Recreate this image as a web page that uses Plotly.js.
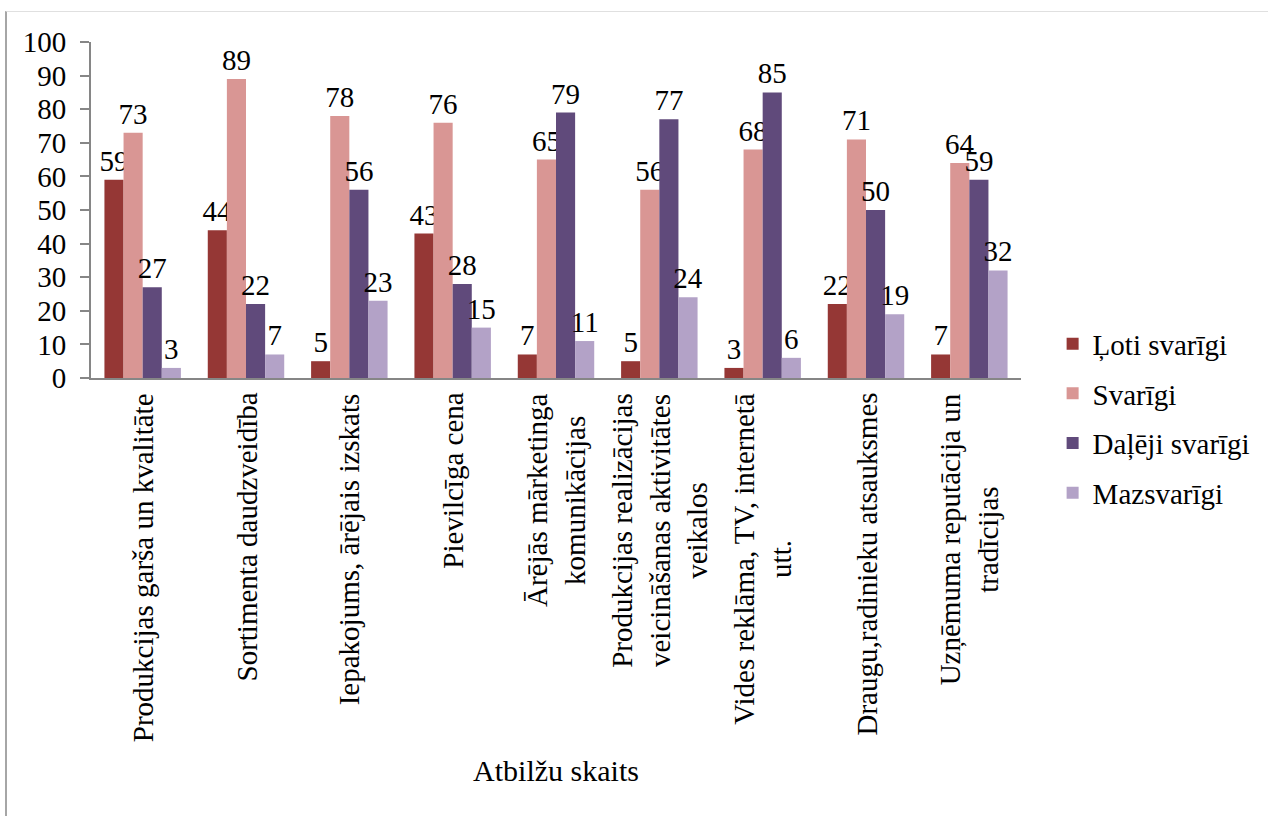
<!DOCTYPE html>
<html>
<head>
<meta charset="utf-8">
<script src="https://cdn.plot.ly/plotly-3.0.1.min.js"></script>
<style>
  html, body { margin: 0; padding: 0; background: #fff; }
  #wrap { position: relative; width: 1268px; height: 816px; }
  #chart { position: absolute; left: 0; top: 0; width: 1268px; height: 816px; }
  #frame { position: absolute; left: 5px; top: 11px; right: 0; bottom: 0;
           border-left: 2px solid #a6a6a6; border-top: 1px solid #e0e0e0; pointer-events: none; }
</style>
</head>
<body>
<div id="wrap">
  <div id="chart"></div>
  <div id="frame"></div>
</div>
<script>
const categories = [
  "Produkcijas garša un kvalitāte",
  "Sortimenta daudzveidība",
  "Iepakojums, ārējais izskats",
  "Pievilcīga cena",
  "Ārējās mārketinga<br>komunikācijas",
  "Produkcijas realizācijas<br>veicināšanas aktivitātes<br>veikalos",
  "Vides reklāma, TV, internetā<br>utt.",
  "Draugu,radinieku atsauksmes",
  "Uzņēmuma reputācija un<br>tradīcijas"
];
const seriesNames = ["Ļoti svarīgi", "Svarīgi", "Daļēji svarīgi", "Mazsvarīgi"];
const lotiSvarigi   = [59, 44, 5, 43, 7, 5, 3, 22, 7];
const svarigi       = [73, 89, 78, 76, 65, 56, 68, 71, 64];
const dalejiSvarigi = [27, 22, 56, 28, 79, 77, 85, 50, 59];
const mazsvarigi    = [3, 7, 23, 15, 11, 24, 6, 19, 32];
const colors = ["#953735", "#D99694", "#604A7B", "#B3A2C7"];
const yTicks = [0, 10, 20, 30, 40, 50, 60, 70, 80, 90, 100];
const xTitle = "Atbilžu skaits";

const FONT = '"Liberation Serif", "Times New Roman", serif';
const seriesValues = [lotiSvarigi, svarigi, dalejiSvarigi, mazsvarigi];

const traces = seriesValues.map((vals, i) => ({
  type: "bar",
  name: seriesNames[i],
  x: categories,
  y: vals,
  marker: { color: colors[i] },
  text: vals.map(String),
  textposition: "outside",
  textfont: { family: FONT, size: 29, color: "#000" },
  constraintext: "none",
  cliponaxis: false,
  legendgroup: "g" + i,
  hoverinfo: "x+y+name"
}));

// category labels: rotated, centre-aligned, placed through the x axis (category) scale
const catLabels = categories.map(c => ({
  x: c, xref: "x",
  y: 0, yref: "y",
  yshift: -13,
  xanchor: "center", yanchor: "top",
  text: c,
  textangle: -90,
  align: "center",
  showarrow: false,
  font: { family: FONT, size: 29, color: "#000" }
}));

const layout = {
  width: 1268,
  height: 816,
  margin: { l: 91, r: 239, t: 42, b: 438, pad: 0 },
  paper_bgcolor: "rgba(0,0,0,0)",
  plot_bgcolor: "rgba(0,0,0,0)",
  font: { family: FONT, size: 29, color: "#000" },
  barmode: "group",
  bargap: 0.26,
  bargroupgap: 0,
  showlegend: true,
  legend: {
    x: 1.034, xanchor: "left",
    y: -0.12, yanchor: "middle",
    font: { family: FONT, size: 29, color: "#000" },
    tracegroupgap: 9,
    bgcolor: "rgba(0,0,0,0)"
  },
  annotations: catLabels,
  xaxis: {
    type: "category",
    showticklabels: false,
    showline: true,
    linecolor: "#868686",
    linewidth: 2,
    ticks: "",
    showgrid: false,
    zeroline: false,
    automargin: false,
    title: { text: xTitle, font: { family: FONT, size: 30, color: "#000" }, standoff: 381 }
  },
  yaxis: {
    range: [0, 100],
    tickvals: yTicks,
    ticktext: yTicks.map(String),
    showline: true,
    linecolor: "#868686",
    linewidth: 2,
    ticks: "outside",
    ticklen: 9,
    tickwidth: 2,
    tickcolor: "#868686",
    ticklabelstandoff: 8,
    showgrid: false,
    zeroline: false,
    tickfont: { family: FONT, size: 29, color: "#000" },
    automargin: false
  }
};

Plotly.newPlot("chart", traces, layout, { displayModeBar: false, staticPlot: true });
</script>
</body>
</html>
